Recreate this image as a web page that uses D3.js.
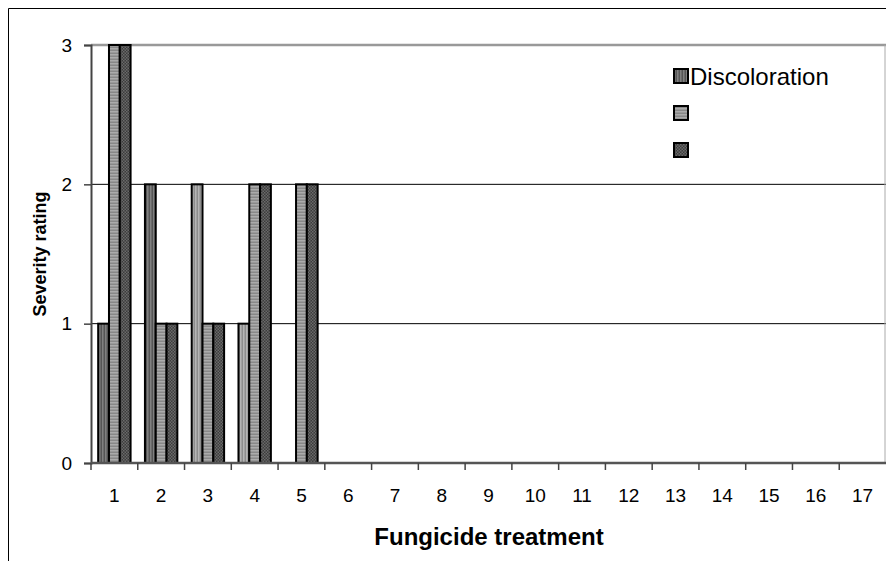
<!DOCTYPE html>
<html>
<head>
<meta charset="utf-8">
<script src="https://cdn.jsdelivr.net/npm/d3@7/dist/d3.min.js"></script>
<style>
  html, body { margin: 0; padding: 0; background: #fff; }
  svg { display: block; font-family: "Liberation Sans", Arial, sans-serif; }
</style>
</head>
<body>
<svg id="chart" width="886" height="561"></svg>
<script>
// ---- data ----
const categories = ["1","2","3","4","5","6","7","8","9","10","11","12","13","14","15","16","17"];
const seriesNames = ["Discoloration", "", ""];
const discoloration = [1, 2, 2, 1, 0, 0, 0, 0, 0, 0, 0, 0, 0, 0, 0, 0, 0];
const series2 = [3, 1, 1, 2, 2, 0, 0, 0, 0, 0, 0, 0, 0, 0, 0, 0, 0];
const series3 = [3, 1, 1, 2, 2, 0, 0, 0, 0, 0, 0, 0, 0, 0, 0, 0, 0];
const yTicks = [0, 1, 2, 3];
const xTitle = "Fungicide treatment";
const yTitle = "Severity rating";

const allSeries = [discoloration, series2, series3];

// ---- drawing ----
const svg = d3.select("#chart");
const defs = svg.append("defs");

function stripePattern(id, dir, c1, c2, size) {
  const p = defs.append("pattern").attr("id", id).attr("patternUnits", "userSpaceOnUse")
    .attr("width", size).attr("height", size);
  p.append("rect").attr("width", size).attr("height", size).attr("fill", c1);
  if (dir === "v") p.append("rect").attr("width", size / 2).attr("height", size).attr("fill", c2);
  else p.append("rect").attr("width", size).attr("height", size / 2).attr("fill", c2);
}
stripePattern("p1", "v", "#555555", "#808080", 3);
stripePattern("p1l", "v", "#8c8c8c", "#b4b4b4", 3);
stripePattern("p2", "h", "#888888", "#ababab", 3);
(function () {
  const p = defs.append("pattern").attr("id", "p3").attr("patternUnits", "userSpaceOnUse")
    .attr("width", 3).attr("height", 3);
  p.append("rect").attr("width", 3).attr("height", 3).attr("fill", "#3c3c3c");
  p.append("rect").attr("x", 0).attr("y", 0).attr("width", 1.5).attr("height", 1.5).attr("fill", "#6a6a6a");
  p.append("rect").attr("x", 1.5).attr("y", 1.5).attr("width", 1.5).attr("height", 1.5).attr("fill", "#6a6a6a");
})();
const fills = ["url(#p1)", "url(#p2)", "url(#p3)"];
const lightFirstSeries = new Set([2, 3]); // per-point lighter fill in the original

const pLeft = 91, pRight = 886, pTop = 45, pBottom = 463;

// outer chart border
svg.append("path").attr("d", `M8.5,561 L8.5,8.5 L886,8.5`)
  .attr("fill", "none").attr("stroke", "#000").attr("stroke-width", 1);

const x = d3.scaleBand().domain(categories).range([pLeft, pRight]).paddingInner(0).paddingOuter(0);
const xs = d3.scaleBand().domain([0, 1, 2]).range([0, x.bandwidth()]).paddingInner(0).paddingOuter(0.665);
const y = d3.scaleLinear().domain([0, 3]).range([pBottom, pTop]);

// gridlines
const g = svg.append("g");
g.selectAll("line.grid").data(yTicks.filter(t => t > 0 && t < 3)).enter().append("line")
  .attr("x1", pLeft).attr("x2", pRight).attr("y1", d => y(d)).attr("y2", d => y(d))
  .attr("stroke", "#000").attr("stroke-width", 1);
// plot area top / right border (gray)
g.append("line").attr("x1", pLeft).attr("x2", pRight).attr("y1", y(3)).attr("y2", y(3))
  .attr("stroke", "#999").attr("stroke-width", 2.5);
g.append("line").attr("x1", pRight - 1).attr("x2", pRight - 1).attr("y1", y(3)).attr("y2", pBottom)
  .attr("stroke", "#aaa").attr("stroke-width", 1);

// bars
const bars = [];
allSeries.forEach((vals, si) => {
  vals.forEach((v, ci) => {
    if (v > 0) bars.push({ si, ci, v });
  });
});
svg.append("g").selectAll("rect").data(bars).enter().append("rect")
  .attr("x", d => x(categories[d.ci]) + xs(d.si))
  .attr("width", xs.bandwidth())
  .attr("y", d => y(d.v))
  .attr("height", d => y(0) - y(d.v))
  .attr("fill", d => (d.si === 0 && lightFirstSeries.has(d.ci)) ? "url(#p1l)" : fills[d.si])
  .attr("stroke", "#000").attr("stroke-width", 2);

// y axis
const yAxis = d3.axisLeft(y).tickValues(yTicks).tickFormat(d3.format("d")).tickSize(7).tickPadding(12);
const ya = svg.append("g").attr("transform", `translate(${pLeft},0)`).call(yAxis);
ya.select(".domain").attr("stroke", "#444").attr("stroke-width", 2);
ya.selectAll(".tick line").attr("stroke", "#444").attr("stroke-width", 1.5);
ya.selectAll(".tick text").attr("font-size", 19).attr("font-family", "Liberation Sans, Arial, sans-serif").attr("fill", "#000");

// x axis
const xa = svg.append("g").attr("transform", `translate(0,${pBottom})`);
xa.append("line").attr("x1", pLeft).attr("x2", pRight).attr("y1", 0).attr("y2", 0)
  .attr("stroke", "#555").attr("stroke-width", 2.5);
const tickPos = categories.map(c => x(c));
xa.selectAll("line.tk").data(tickPos).enter().append("line")
  .attr("x1", d => d).attr("x2", d => d).attr("y1", 0).attr("y2", 7)
  .attr("stroke", "#444").attr("stroke-width", 1.5);
xa.selectAll("text").data(categories).enter().append("text")
  .attr("x", d => x(d) + x.bandwidth() / 2).attr("y", 39)
  .attr("text-anchor", "middle").attr("font-size", 19).text(d => d);

// axis titles
svg.append("text").attr("x", 489).attr("y", 545).attr("text-anchor", "middle")
  .attr("font-size", 24).attr("font-weight", "bold").text(xTitle);
svg.append("text").attr("transform", `translate(46,254) rotate(-90)`).attr("text-anchor", "middle")
  .attr("font-size", 18).attr("font-weight", "bold").text(yTitle);

// legend
const lg = svg.append("g").attr("transform", "translate(674,69)");
seriesNames.forEach((name, i) => {
  lg.append("rect").attr("x", 0).attr("y", i * 37).attr("width", 14).attr("height", 14)
    .attr("fill", fills[i]).attr("stroke", "#000").attr("stroke-width", 2);
  if (name) lg.append("text").attr("x", 16).attr("y", i * 37 + 16).attr("font-size", 24).text(name);
});
</script>
</body>
</html>
